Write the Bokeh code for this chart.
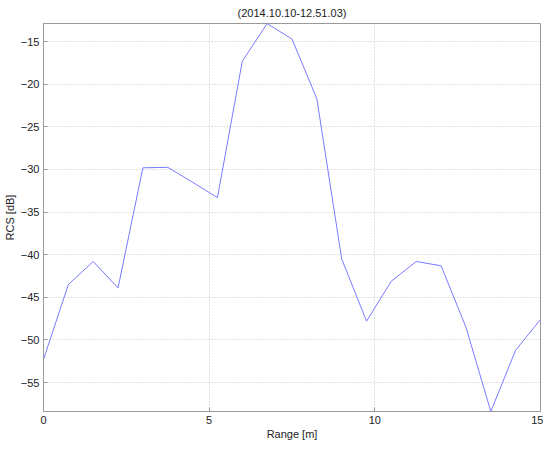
from bokeh.plotting import figure
from bokeh.models import Range1d, FixedTicker
from bokeh.embed import file_html
from bokeh.resources import INLINE

range_m = [0, 0.75, 1.5, 2.25, 3.0, 3.75, 4.5, 5.25, 6.0, 6.75, 7.5,
           8.25, 9.0, 9.75, 10.5, 11.25, 12.0, 12.75, 13.5, 14.25, 15.0]
rcs_db = [-52.3, -43.5, -40.8, -43.9, -29.8, -29.75, -31.5, -33.3, -17.3, -12.87, -14.7,
          -21.7, -40.5, -47.8, -43.1, -40.8, -41.3, -48.5, -58.4, -51.2, -47.6]
x_ticks = [0, 5, 10, 15]
y_ticks = [-55, -50, -45, -40, -35, -30, -25, -20, -15]
title_text = "(2014.10.10-12.51.03)"
x_label = "Range [m]"
y_label = "RCS [dB]"

FONT = "Liberation Sans"
X0, X1 = 0, 15
Y0, Y1 = -58.4, -12.87

p = figure(frame_width=497, frame_height=388, output_backend="svg", toolbar_location=None,
           title=title_text, x_range=Range1d(X0, X1), y_range=Range1d(Y0, Y1),
           min_border_left=0, min_border_right=3, min_border_top=0, min_border_bottom=0)

p.title.align = "center"
p.title.text_font = FONT
p.title.text_font_size = "11px"
p.title.text_font_style = "normal"
p.title.text_color = "#222222"
p.title.standoff = 9

p.outline_line_color = "#999999"
p.outline_line_width = 1
p.background_fill_color = "white"
p.border_fill_color = "white"

for ax in (p.xaxis[0], p.yaxis[0]):
    ax.axis_line_color = "#999999"
    ax.major_tick_line_color = "#999999"
    ax.major_tick_in = 4
    ax.major_tick_out = 0
    ax.minor_tick_line_color = None
    ax.major_label_text_font = FONT
    ax.major_label_text_font_size = "11px"
    ax.major_label_text_color = "#222222"
    ax.major_label_text_line_height = 1.0
    ax.axis_label_text_font = FONT
    ax.axis_label_text_font_size = "11px"
    ax.axis_label_text_font_style = "normal"
    ax.axis_label_text_color = "#222222"
    ax.axis_label_text_line_height = 1.0
    ax.major_label_standoff = 4
    ax.axis_label_standoff = 2

p.xaxis.major_label_standoff = 4
p.xaxis.axis_label_standoff = 1

p.xaxis.ticker = FixedTicker(ticks=x_ticks)
p.yaxis.ticker = FixedTicker(ticks=y_ticks)
p.xaxis.axis_label = x_label
p.yaxis.axis_label = y_label

p.grid.grid_line_color = "#c4c4c4"
p.grid.grid_line_dash = "1 2"
p.grid.grid_line_width = 1

p.line(range_m, rcs_db, line_color="#7a7aff", line_width=1)

open("out.html", "w").write(file_html(p, INLINE))
